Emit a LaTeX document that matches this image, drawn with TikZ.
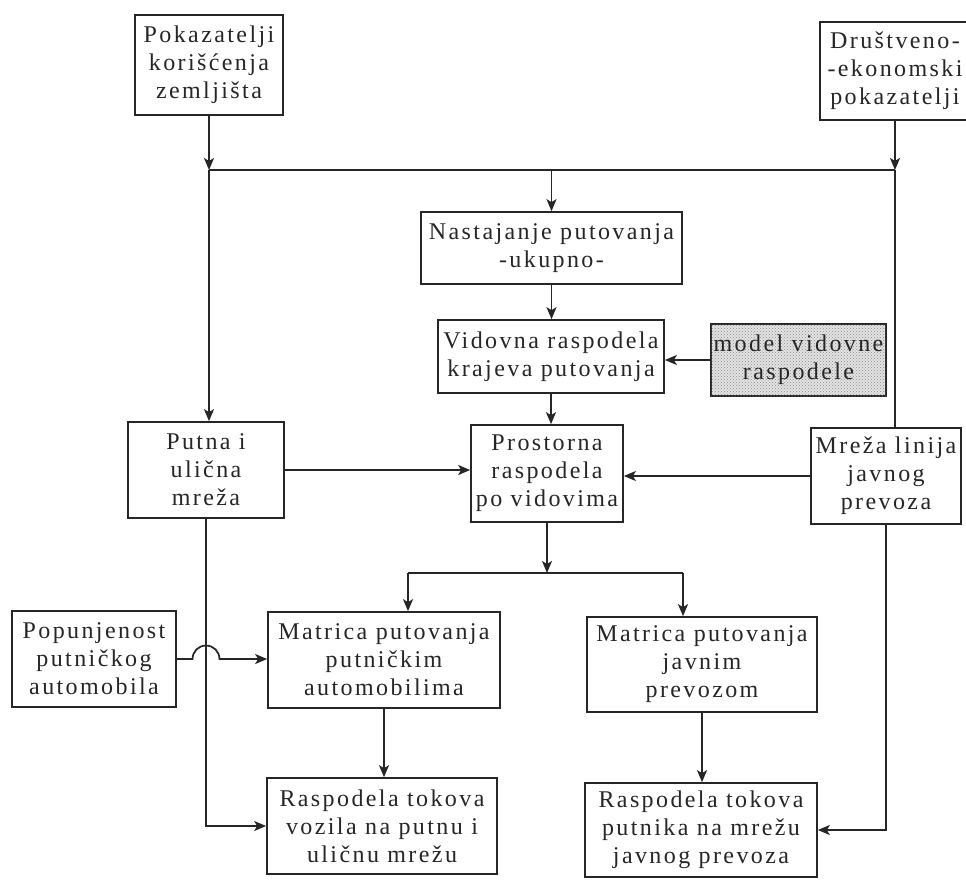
\documentclass[tikz,border=0pt]{standalone}
\usepackage{fontspec}
\setmainfont{Liberation Serif}[LetterSpace=10]
\usetikzlibrary{arrows.meta,patterns}

\tikzset{
  box/.style={draw=black!85, line width=1.7pt, inner sep=0pt, align=center,
    text=black!85, font=\fontsize{24}{28}\selectfont},
  arr/.style={draw=black!85, line width=1.7pt,
    -{Stealth[length=12pt,width=10pt,inset=3pt]}},
  ln/.style={draw=black!85, line width=1.7pt},
  shaded/.style={fill=gray!22, postaction={pattern=crosshatch dots, pattern color=black!45}},
}

\begin{document}
\begin{tikzpicture}[x=1pt, y=-1pt]
  \path[use as bounding box, fill=white] (0,0) rectangle (966,879);
  \clip (0,0) rectangle (966,879);

  % boxes
  \node[box, minimum width=148pt, minimum height=100pt] (pok)   at (209,65)    {Pokazatelji\\korišćenja\\zemljišta};
  \node[box, minimum width=150pt, minimum height=98pt]  (drus)  at (895,71)    {Društveno-\\-ekonomski\\pokazatelji};
  \node[box, minimum width=261pt, minimum height=72pt]  (nast)  at (551.5,248) {Nastajanje putovanja\\-ukupno-};
  \node[box, minimum width=226pt, minimum height=73pt]  (vid)   at (551,356.5) {Vidovna raspodela\\krajeva putovanja};
  \node[box, shaded, minimum width=175pt, minimum height=72pt] (model) at (798.5,360) {model vidovne\\raspodele};
  \node[box, minimum width=156pt, minimum height=96pt]  (putna) at (206,470)   {Putna i\\ulična\\mreža};
  \node[box, minimum width=152pt, minimum height=97pt]  (pros)  at (547,473.5) {Prostorna\\raspodela\\po vidovima};
  \node[box, minimum width=150pt, minimum height=96pt]  (mreza) at (886,476)   {Mreža linija\\javnog\\prevoza};
  \node[box, minimum width=164pt, minimum height=96pt]  (popun) at (94,659)    {Popunjenost\\putničkog\\automobila};
  \node[box, minimum width=232pt, minimum height=96pt]  (matpa) at (384,660)   {Matrica putovanja\\putničkim\\automobilima};
  \node[box, minimum width=230pt, minimum height=95pt]  (matjp) at (702,664.5) {Matrica putovanja\\javnim\\prevozom};
  \node[box, minimum width=230pt, minimum height=96pt]  (rvoz)  at (382,826)   {Raspodela tokova\\vozila na putnu i\\uličnu mrežu};
  \node[box, minimum width=232pt, minimum height=94pt]  (rput)  at (701,830)   {Raspodela tokova\\putnika na mrežu\\javnog prevoza};

  % junction points
  \coordinate (jl) at (209,170);
  \coordinate (jr) at (895,170);
  \coordinate (bs) at (547,573);
  \coordinate (bl) at (408,573);
  \coordinate (br) at (683,573);
  \coordinate (hopc) at (putna.south |- popun.east);

  % top collector
  \draw[arr] (pok.south) -- (jl);
  \draw[arr] (jl) -- (jl |- putna.north);
  \draw[arr] (drus.south) -- (jr);
  \draw[ln] (jl) -- (jr);
  \draw[ln] (jr) -- (jr |- mreza.north);
  \draw[arr] (nast.north |- jl) -- (nast.north);

  % middle chain
  \draw[arr] (nast.south) -- (nast.south |- vid.north);
  \draw[arr] (vid.south) -- (vid.south |- pros.north);
  \draw[arr] (model.west) -- (model.west -| vid.east);
  \draw[arr] (putna.east) -- (putna.east -| pros.west);
  \draw[arr] (mreza.west) -- (mreza.west -| pros.east);

  % split below
  \draw[arr] (pros.south) -- (bs);
  \draw[ln] (bl) -- (br);
  \draw[arr] (bl) -- (bl |- matpa.north);
  \draw[arr] (br) -- (br |- matjp.north);

  % occupancy line hopping over the road network line
  \draw[arr] (popun.east) -- ([xshift=-13.5pt]hopc)
    arc[start angle=180, end angle=0, radius=13.5pt]
    -- (popun.east -| matpa.west);

  % lower connections
  \draw[arr] (putna.south) -- (putna.south |- rvoz.west) -- (rvoz.west);
  \draw[arr] (matpa.south) -- (matpa.south |- rvoz.north);
  \draw[arr] (matjp.south) -- (matjp.south |- rput.north);
  \draw[arr] (mreza.south) -- (mreza.south |- rput.east) -- (rput.east);
\end{tikzpicture}
\end{document}
